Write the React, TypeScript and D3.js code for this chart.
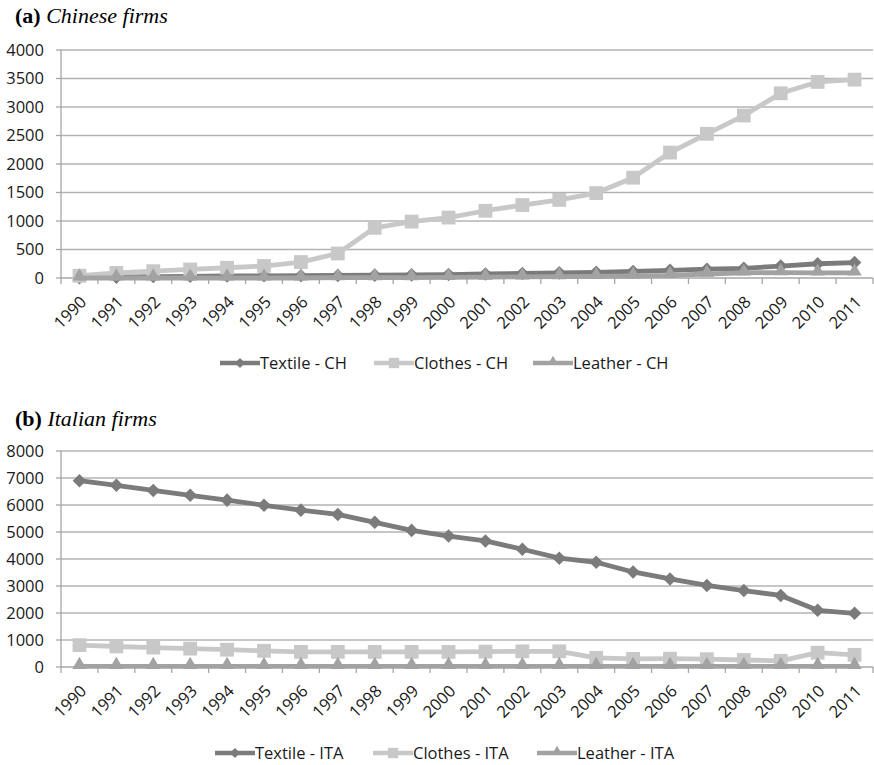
import React from "react"
import * as d3 from "d3"

const years = ["1990","1991","1992","1993","1994","1995","1996","1997","1998","1999","2000","2001","2002","2003","2004","2005","2006","2007","2008","2009","2010","2011"]

const textileCH = [5, 15, 25, 30, 35, 38, 40, 45, 50, 55, 60, 70, 80, 90, 100, 115, 135, 155, 170, 210, 250, 270]
const clothesCH = [40, 90, 120, 150, 180, 210, 280, 430, 880, 990, 1060, 1180, 1280, 1370, 1490, 1760, 2200, 2530, 2850, 3240, 3440, 3480]
const leatherCH = [0, 0, 0, 0, 0, 0, 0, 5, 5, 5, 10, 15, 20, 25, 30, 35, 45, 70, 90, 95, 90, 90]

const textileITA = [6900, 6730, 6540, 6360, 6180, 5990, 5810, 5650, 5360, 5060, 4850, 4670, 4360, 4030, 3880, 3520, 3260, 3020, 2830, 2650, 2100, 1990]
const clothesITA = [810, 760, 720, 680, 640, 600, 560, 560, 560, 560, 560, 570, 580, 580, 340, 300, 310, 290, 260, 230, 530, 450]
const leatherITA = [20, 20, 20, 20, 20, 20, 20, 20, 20, 20, 20, 20, 20, 20, 20, 20, 20, 20, 20, 20, 20, 20]

const ticksCH = [0, 500, 1000, 1500, 2000, 2500, 3000, 3500, 4000]
const ticksITA = [0, 1000, 2000, 3000, 4000, 5000, 6000, 7000, 8000]

const colors = { textile: "#7b7b7b", clothes: "#c8c8c8", leather: "#a2a2a2" }
const font = "'Open Sans', sans-serif"

// marker shapes, roughly the size of the Excel ones
const diamond = d3.symbol(d3.symbolSquare, 92)()
const square = d3.symbol(d3.symbolSquare, 190)()
const triangle = d3.symbol(d3.symbolTriangle, 88)()

function Marker({ kind, x, y }: { kind: string; x: number; y: number }) {
  if (kind === "textile")
    return <path d={diamond || ""} transform={`translate(${x},${y}) rotate(45)`} fill={colors.textile} />
  if (kind === "clothes")
    return <path d={square || ""} transform={`translate(${x},${y})`} fill={colors.clothes} />
  return <path d={triangle || ""} transform={`translate(${x},${y - 1.5})`} fill={colors.leather} />
}

interface PanelProps {
  letter: string
  title: string
  titleY: number
  top: number
  bottom: number
  ticks: number[]
  series: { kind: string; label: string; values: number[] }[]
  legendY: number
  legendX: number[]
}

function Panel(p: PanelProps) {
  const left = 61
  const right = 873
  const x = d3.scaleBand().domain(years).range([left, right])
  const y = d3.scaleLinear().domain([0, d3.max(p.ticks) || 0]).range([p.bottom, p.top])
  const cx = (yr: string) => (x(yr) || 0) + x.bandwidth() / 2
  const line = d3.line<number>().x((_, i) => cx(years[i])).y(d => y(d))

  return (
    <g>
      <text x={15} y={p.titleY} fontFamily="'Liberation Serif', serif" fontSize={22}>
        <tspan fontWeight="bold">{p.letter}</tspan>
        <tspan fontStyle="italic"> {p.title}</tspan>
      </text>
      {p.ticks.map(t => (
        <g key={t}>
          {t > 0 && <line x1={left} x2={right} y1={y(t)} y2={y(t)} stroke="#b3b3b3" strokeWidth={1.3} />}
          <line x1={left - 5} x2={left} y1={y(t)} y2={y(t)} stroke="#a6a6a6" strokeWidth={1.3} />
          <text x={44} y={y(t)} dy="0.35em" textAnchor="end" fontFamily={font} fontSize={16.5} fill="#1a1a1a">{t}</text>
        </g>
      ))}
      <line x1={left} x2={left} y1={p.top} y2={p.bottom} stroke="#a6a6a6" strokeWidth={1.3} />
      <line x1={left} x2={right} y1={p.bottom} y2={p.bottom} stroke="#a6a6a6" strokeWidth={1.3} />
      {years.concat(["end"]).map((yr, i) => {
        const xx = left + i * x.bandwidth()
        return <line key={yr} x1={xx} x2={xx} y1={p.bottom} y2={p.bottom + 6} stroke="#a6a6a6" strokeWidth={1.3} />
      })}
      {years.map(yr => (
        <text key={yr} transform={`translate(${cx(yr) + 4},${p.bottom + 21}) rotate(-45)`} textAnchor="end" dy="0.35em"
          fontFamily={font} fontSize={16.5} fill="#1a1a1a">{yr}</text>
      ))}
      {p.series.map(s => (
        <g key={s.kind}>
          <path d={line(s.values) || ""} fill="none" stroke={(colors as any)[s.kind]} strokeWidth={4.8} strokeLinejoin="round" />
          {s.values.map((v, i) => <Marker key={i} kind={s.kind} x={cx(years[i])} y={y(v)} />)}
        </g>
      ))}
      {p.series.map((s, i) => (
        <g key={s.kind} transform={`translate(${p.legendX[i]},${p.legendY})`}>
          <line x1={0} x2={40} y1={0} y2={0} stroke={(colors as any)[s.kind]} strokeWidth={4.5} />
          <g transform="translate(20,0) scale(0.75)"><Marker kind={s.kind} x={0} y={0} /></g>
          <text x={40} y={0} dy="0.35em" fontFamily={font} fontSize={16.5} fill="#1a1a1a">{s.label}</text>
        </g>
      ))}
    </g>
  )
}

export default function App() {
  return (
    <svg width={874} height={765} style={{ position: "absolute", left: 0, top: 0, background: "#fff" }}>
      <Panel letter="(a)" title="Chinese firms" titleY={23} top={50} bottom={278} ticks={ticksCH}
        series={[
          { kind: "textile", label: "Textile - CH", values: textileCH },
          { kind: "clothes", label: "Clothes - CH", values: clothesCH },
          { kind: "leather", label: "Leather - CH", values: leatherCH },
        ]}
        legendY={363} legendX={[220, 374, 533]} />
      <Panel letter="(b)" title="Italian firms" titleY={426} top={451} bottom={667} ticks={ticksITA}
        series={[
          { kind: "textile", label: "Textile - ITA", values: textileITA },
          { kind: "clothes", label: "Clothes - ITA", values: clothesITA },
          { kind: "leather", label: "Leather - ITA", values: leatherITA },
        ]}
        legendY={753} legendX={[215, 373, 537]} />
    </svg>
  )
}
